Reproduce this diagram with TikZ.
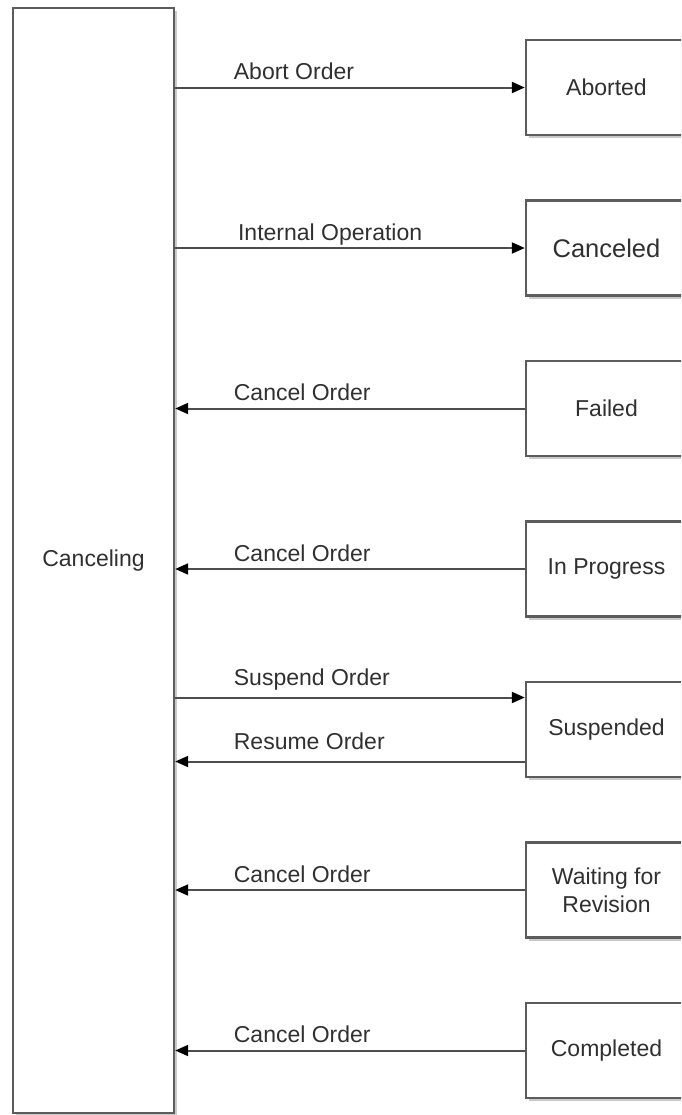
\documentclass[tikz,border=0pt]{standalone}
\usepackage{fontspec}
\setmainfont{Liberation Sans}
\usetikzlibrary{positioning,shadows,arrows.meta}

\definecolor{boxgray}{HTML}{5C5C5C}
\definecolor{linegray}{HTML}{4D4D4D}
\definecolor{textgray}{HTML}{303030}

\begin{document}
\begin{tikzpicture}[x=0.5pt, y=-0.5pt, node distance=31.55pt]
    \tikzstyle{state} = [draw=boxgray, line width=1.2pt, fill=white, text=textgray,
        minimum width=80.5pt, align=center, font=\fontsize{11.5}{14}\selectfont,
        drop shadow={shadow xshift=1.5pt, shadow yshift=-1.5pt, opacity=0.35, fill=black!60}]
    \tikzstyle{small state} = [state, minimum height=47.5pt]
    \tikzstyle{flow} = [draw=linegray, line width=1pt, -{Triangle[length=6.5pt, width=5.5pt, color=black]}]
    \tikzstyle{back} = [draw=linegray, line width=1pt, {Triangle[length=6.5pt, width=5.5pt, color=black]}-]
    \tikzstyle{lbl} = [pos=0.165, anchor=base west, inner sep=0pt, yshift=4pt,
        text=textgray, font=\fontsize{11.5}{14}\selectfont]
    \useasboundingbox (0,0) rectangle (681,1115);
    \clip (0,0) rectangle (681,1115);
    % the state being left or entered
    \node[state, minimum height=552.5pt] (canceling) at (93.5,560.5) {Canceling};
    % neighbouring states
    \node[small state] (aborted) at (606.5,87.5) {Aborted};
    \node[small state, below=of aborted] (canceled) {\fontsize{12.75}{15}\selectfont Canceled};
    \node[small state, below=of canceled] (failed) {Failed};
    \node[small state, below=of failed] (inprogress) {In Progress};
    \node[small state, below=of inprogress] (suspended) {Suspended};
    \node[small state, below=of suspended] (waiting) {Waiting for\\Revision};
    \node[small state, below=of waiting] (completed) {Completed};
    \coordinate (susp in) at ([yshift=16pt]suspended.west);
    \coordinate (susp out) at ([yshift=-16pt]suspended.west);
    % transitions
    \draw[flow] (canceling.east |- aborted) -- node[lbl] {Abort Order} (aborted.west);
    \draw[flow] (canceling.east |- canceled) -- node[lbl, pos=0.177] {Internal Operation} (canceled.west);
    \draw[back] (canceling.east |- failed) -- node[lbl] {Cancel Order} (failed.west);
    \draw[back] (canceling.east |- inprogress) -- node[lbl] {Cancel Order} (inprogress.west);
    \draw[flow] (canceling.east |- susp in) -- node[lbl, yshift=2pt] {Suspend Order} (susp in);
    \draw[back] (canceling.east |- susp out) -- node[lbl, yshift=2pt] {Resume Order} (susp out);
    \draw[back] (canceling.east |- waiting) -- node[lbl] {Cancel Order} (waiting.west);
    \draw[back] (canceling.east |- completed) -- node[lbl] {Cancel Order} (completed.west);
\end{tikzpicture}
\end{document}
